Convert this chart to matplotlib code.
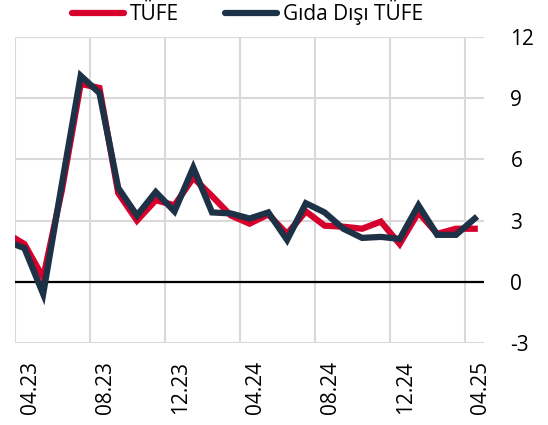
import numpy as np
import matplotlib
matplotlib.use('Agg')
import matplotlib.pyplot as plt
import matplotlib.transforms as mtransforms

plt.rcParams['font.family'] = ['Open Sans', 'DejaVu Sans']

# monthly change (%), 03.23 - 04.25 ; first month sits just outside the visible range
months = ['03.23', '04.23', '05.23', '06.23', '07.23', '08.23', '09.23', '10.23', '11.23',
          '12.23', '01.24', '02.24', '03.24', '04.24', '05.24', '06.24', '07.24', '08.24',
          '09.24', '10.24', '11.24', '12.24', '01.25', '02.25', '03.25', '04.25']
tufe = [2.4, 1.85, 0.2, 4.5, 9.7, 9.5, 4.35, 3.0, 4.0, 3.75, 5.1, 4.2, 3.25, 2.85,
        3.3, 2.35, 3.45, 2.75, 2.7, 2.6, 2.95, 1.85, 3.4, 2.35, 2.6, 2.6]
gida_disi = [2.0, 1.65, -0.6, 4.8, 10.1, 9.25, 4.6, 3.25, 4.4, 3.45, 5.6, 3.4, 3.35, 3.1,
             3.4, 2.05, 3.85, 3.4, 2.6, 2.15, 2.2, 2.1, 3.75, 2.3, 2.3, 3.1]

red = '#D5002B'
navy = '#1E3247'
grid_col = '#D9D9D9'
fs = 15

x = np.arange(len(months)) - 1  # 04.23 -> 0

fig = plt.figure(figsize=(5.48, 4.25), dpi=100)
ax = fig.add_axes([0.0274, 0.193, 0.856, 0.72])

ax.plot(x, tufe, color=red, lw=4.5, solid_joinstyle='miter', label='TÜFE', zorder=3)
ax.plot(x, gida_disi, color=navy, lw=4.5, solid_joinstyle='miter', label='Gıda Dışı TÜFE', zorder=4)

ax.set_xlim(-0.5, len(months) - 1.5)
ax.set_ylim(-3, 12)

# labels every 4 months, gridlines on category boundaries
ax.set_xticks(x[1::4])
ax.set_xticklabels(months[1::4], rotation=90, fontsize=fs)
ax.set_xticks(x[1::4] - 0.5, minor=True)
ax.set_yticks([-3, 0, 3, 6, 9, 12])
ax.set_yticklabels(['-3', '0', '3', '6', '9', '12'], fontsize=fs)

ax.yaxis.tick_right()
ax.tick_params(axis='both', which='both', length=0)
ax.tick_params(axis='x', pad=13)
ax.tick_params(axis='y', pad=19)

# nudge rotated labels a bit to the right, like the original
shift = mtransforms.ScaledTranslation(4.5 / 72, 0, fig.dpi_scale_trans)
for lab in ax.get_xticklabels():
    lab.set_transform(lab.get_transform() + shift)

ax.grid(True, axis='y', which='major', color=grid_col, lw=1.5)
ax.grid(True, axis='x', which='minor', color=grid_col, lw=1.5)
ax.grid(False, axis='x', which='major')
ax.axhline(0, color='black', lw=1.6, zorder=2)
ax.set_axisbelow(True)

for s in ax.spines.values():
    s.set_visible(False)

leg = fig.legend(loc='center', bbox_to_anchor=(0.452, 0.970), ncol=2, frameon=False,
                 fontsize=fs, handlelength=2.5, handletextpad=0.3, columnspacing=2.2)
for h in leg.get_lines():
    h.set_linewidth(4.5)
    h.set_solid_capstyle('round')

fig.savefig('out.png', dpi=100)
